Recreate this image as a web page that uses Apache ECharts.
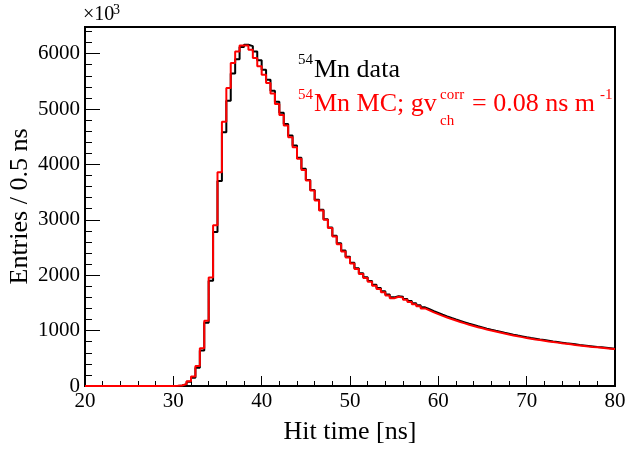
<!DOCTYPE html>
<html>
<head>
<meta charset="utf-8">
<script src="https://cdn.jsdelivr.net/npm/echarts@6/dist/echarts.min.js"></script>
<style>html,body{margin:0;padding:0;background:#fff;}#c{width:627px;height:450px;}</style>
</head>
<body>
<div id="c"></div>
<script>
// Histogram binning: 0.5 ns bins from 20 to 80 ns
var binStart = 20, binWidth = 0.5, binEnd = 80;
var xTicks = [20, 30, 40, 50, 60, 70, 80];
var yTicks = [0, 1000, 2000, 3000, 4000, 5000, 6000];

// 54Mn data (black), entries per bin, bins 20.0 .. 79.5
var dataValues = [
  0,0,0,0,0,0,0,0,0,0, 0,0,0,0,0,0,0,0,0,0,
  2,8,28,75,150,330,640,1140,1900,2780,
  3700,4580,5150,5640,5900,6120,6160,6135,6040,5880,
  5710,5530,5330,5130,4930,4730,4520,4340,4120,3920,
  3720,3540,3360,3180,3010,2860,2710,2575,2445,2335,
  2225,2125,2035,1965,1895,1828,1768,1708,1652,1600,
  1622,1610,1572,1533,1494,1457,1420,1385,1350,1318,
  1286,1256,1227,1200,1174,1149,1124,1101,1078,1057,
  1036,1016,997,979,961,944,927,911,896,881,
  867,854,841,829,817,805,794,783,772,762,
  752,742,733,724,715,706,698,690,682,674
];

// 54Mn MC (red), entries per bin, bins 20.0 .. 79.5
var mcValues = [
  0,0,0,0,0,0,0,0,0,0, 0,0,0,0,0,0,0,0,0,0,
  3,10,35,85,170,360,680,1180,1960,2900,
  3860,4770,5380,5830,6040,6145,6145,6070,5920,5770,
  5620,5470,5280,5090,4890,4700,4490,4310,4100,3900,
  3710,3530,3350,3170,3000,2850,2700,2560,2430,2320,
  2210,2110,2020,1950,1880,1810,1750,1690,1635,1585,
  1610,1595,1555,1515,1475,1438,1400,1365,1330,1298,
  1266,1236,1208,1182,1156,1131,1107,1084,1062,1041,
  1020,1000,982,964,946,929,913,897,882,868,
  854,841,829,817,805,794,783,772,762,752,
  742,733,724,715,706,698,690,682,674,666
];

function toSteps(vals) {
  var out = [];
  for (var i = 0; i < vals.length; i++) out.push([binStart + i * binWidth, vals[i]]);
  out.push([binEnd, vals[vals.length - 1]]);
  return out;
}

var FONT = 'Liberation Serif';
var chart = echarts.init(document.getElementById('c'), null, {renderer: 'canvas'});
chart.setOption({
  animation: false,
  backgroundColor: '#fff',
  grid: {left: 85, right: 12, top: 27, bottom: 64, containLabel: false, outerBoundsMode: 'none',
         show: true, borderColor: '#000', borderWidth: 2, backgroundColor: 'transparent'},
  xAxis: {
    type: 'value', min: xTicks[0], max: xTicks[xTicks.length - 1], interval: 10,
    name: 'Hit time [ns]', nameLocation: 'middle', nameGap: 33,
    nameTextStyle: {fontFamily: FONT, fontSize: 26, color: '#000'},
    axisLine: {lineStyle: {color: '#000', width: 2}},
    axisTick: {inside: true, length: 10, lineStyle: {color: '#000', width: 1}},
    minorTick: {show: true, splitNumber: 5, length: 5, lineStyle: {color: '#000', width: 1}},
    axisLabel: {fontFamily: FONT, fontSize: 21, color: '#000', margin: 5, formatter: function (v) { return String(v); }},
    splitLine: {show: false}
  },
  yAxis: {
    type: 'value', min: yTicks[0], max: 6480, interval: 1000,
    name: 'Entries / 0.5 ns', nameLocation: 'middle', nameGap: 52, nameMoveOverlap: false,
    nameTextStyle: {fontFamily: FONT, fontSize: 26, color: '#000'},
    axisLine: {lineStyle: {color: '#000', width: 2}},
    axisTick: {inside: true, length: 15, lineStyle: {color: '#000', width: 1}},
    minorTick: {show: true, splitNumber: 5, length: 7, lineStyle: {color: '#000', width: 1}},
    axisLabel: {fontFamily: FONT, fontSize: 21, color: '#000', margin: 5, showMaxLabel: false,
                formatter: function (v) { return String(v); }},
    splitLine: {show: false}
  },
  series: [
    {type: 'line', name: 'data', step: 'end', showSymbol: false, data: toSteps(dataValues),
     lineStyle: {color: '#000', width: 2}, itemStyle: {color: '#000'}, z: 2},
    {type: 'line', name: 'MC', step: 'end', showSymbol: false, data: toSteps(mcValues),
     lineStyle: {color: '#ff0000', width: 2}, itemStyle: {color: '#ff0000'}, z: 3}
  ],
  graphic: [
    {type: 'text', left: 83, top: 5, style: {text: '×10', font: '20px "Liberation Serif"', fill: '#000'}},
    {type: 'text', left: 113, top: 3, style: {text: '3', font: '14px "Liberation Serif"', fill: '#000'}},
    {type: 'text', x: 298, y: 60, style: {text: '54', font: '15px "Liberation Serif"', fill: '#000', verticalAlign: 'middle'}},
    {type: 'text', x: 314, y: 70, style: {text: 'Mn data', font: '26px "Liberation Serif"', fill: '#000', verticalAlign: 'middle'}},
    {type: 'text', x: 298, y: 95, style: {text: '54', font: '15px "Liberation Serif"', fill: '#ff0000', verticalAlign: 'middle'}},
    {type: 'text', x: 314, y: 104, style: {text: 'Mn MC; gv', font: '26px "Liberation Serif"', fill: '#ff0000', verticalAlign: 'middle'}},
    {type: 'text', x: 440, y: 95, style: {text: 'corr', font: '15px "Liberation Serif"', fill: '#ff0000', verticalAlign: 'middle'}},
    {type: 'text', x: 440, y: 121, style: {text: 'ch', font: '15px "Liberation Serif"', fill: '#ff0000', verticalAlign: 'middle'}},
    {type: 'text', x: 472, y: 104, style: {text: '= 0.08 ns m', font: '26px "Liberation Serif"', fill: '#ff0000', verticalAlign: 'middle'}},
    {type: 'text', x: 600, y: 95, style: {text: '-1', font: '15px "Liberation Serif"', fill: '#ff0000', verticalAlign: 'middle'}}
  ]
});
</script>
</body>
</html>
